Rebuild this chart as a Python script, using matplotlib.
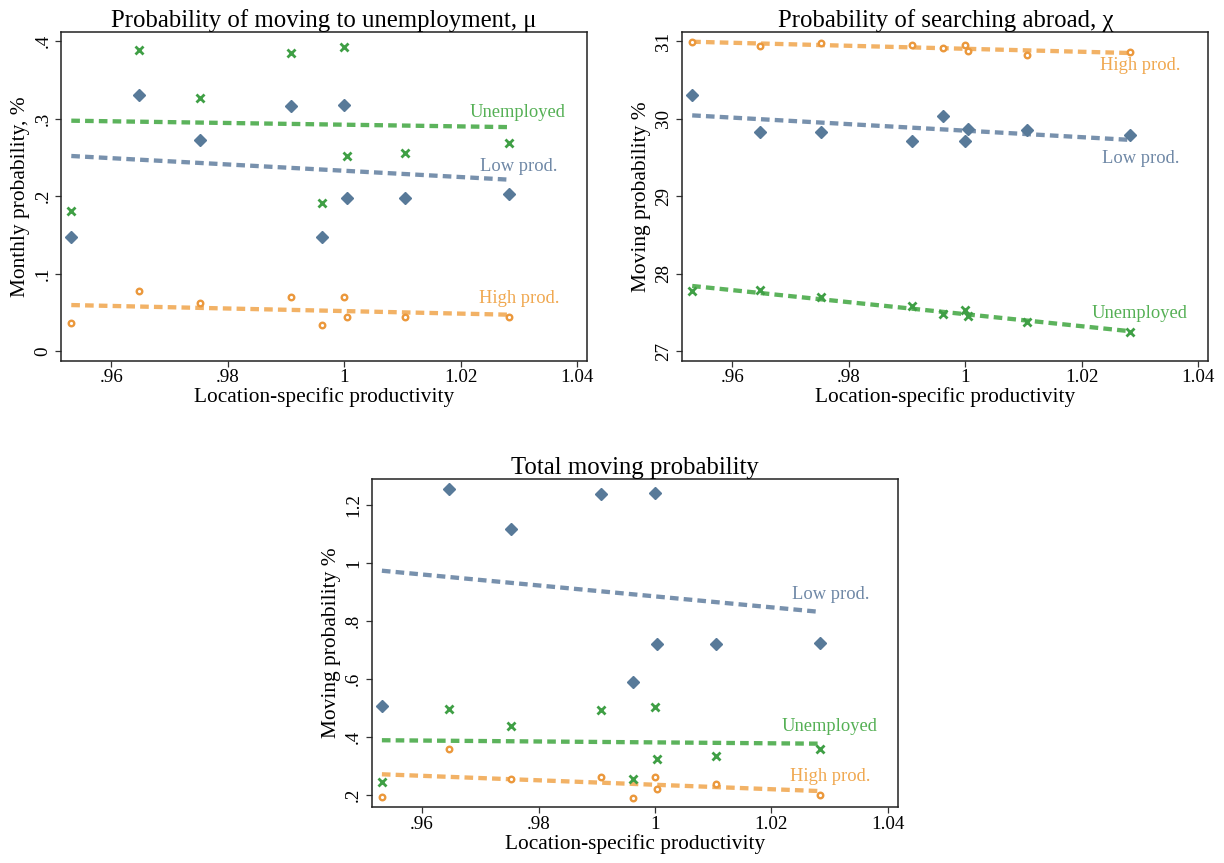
import numpy as np
import matplotlib
matplotlib.use("Agg")
import matplotlib.pyplot as plt
from matplotlib.ticker import FixedLocator, FixedFormatter

plt.rcParams['font.family'] = ['Liberation Serif', 'DejaVu Serif']

# ---- data ----
productivity = [0.9531, 0.9647, 0.9752, 0.9908, 0.9962, 1.0000, 1.0004, 1.0105, 1.0283]

mu_low = [0.1473, 0.3302, 0.2721, 0.3160, 0.1477, 0.3173, 0.1981, 0.1972, 0.2032]
mu_unemp = [0.1808, 0.3884, 0.3272, 0.3849, 0.1907, 0.3922, 0.2523, 0.2553, 0.2687]
mu_high = [0.0362, 0.0771, 0.0620, 0.0698, 0.0332, 0.0698, 0.0439, 0.0435, 0.0435]

chi_high = [30.987, 30.940, 30.983, 30.957, 30.910, 30.950, 30.880, 30.820, 30.860]
chi_low = [30.307, 29.829, 29.825, 29.717, 30.036, 29.717, 29.872, 29.859, 29.794]
chi_unemp = [27.779, 27.788, 27.698, 27.586, 27.474, 27.525, 27.452, 27.375, 27.241]

tot_low = [0.5054, 1.2563, 1.1173, 1.2390, 0.5880, 1.2400, 0.7212, 0.7200, 0.7247]
tot_unemp = [0.2425, 0.4974, 0.4365, 0.4939, 0.2528, 0.5020, 0.3217, 0.3343, 0.3561]
tot_high = [0.1931, 0.3561, 0.2540, 0.2620, 0.1897, 0.2620, 0.2184, 0.2356, 0.2000]

x_ticks = [0.96, 0.98, 1.00, 1.02, 1.04]
x_ticklabels = ['.96', '.98', '1', '1.02', '1.04']

titles = ['Probability of moving to unemployment, μ',
          'Probability of searching abroad, χ',
          'Total moving probability']
ylabels = ['Monthly probability, %', 'Moving probability %', 'Moving probability %']

mu_yticks = [0, 0.1, 0.2, 0.3, 0.4]
mu_yticklabels = ['0', '.1', '.2', '.3', '.4']
chi_yticks = [27, 28, 29, 30, 31]
chi_yticklabels = ['27', '28', '29', '30', '31']
tot_yticks = [0.2, 0.4, 0.6, 0.8, 1.0, 1.2]
tot_yticklabels = ['.2', '.4', '.6', '.8', '1', '1.2']

series_names = ['Low prod.', 'Unemployed', 'High prod.']

# label placement (data coords, right-aligned)
mu_label_pos = [(1.0366, 0.239), (1.038, 0.3087), (1.0369, 0.0685)]
chi_label_pos = [(1.0367, 29.484), (1.0382, 27.48), (1.037, 30.69)]
tot_label_pos = [(1.0368, 0.892), (1.0383, 0.434), (1.0371, 0.264)]

# ---- styles ----
mk_colors = ['#587a99', '#3f9f45', '#eb983c']
ln_colors = ['#7891ad', '#5cb35c', '#f2b266']
txt_colors = ['#6f88a6', '#55b055', '#f0a850']

W, H = 1224, 863
fig = plt.figure(figsize=(W / 100, H / 100), dpi=100)
fig.patch.set_facecolor('white')

def rect(l, r, t, b):
    return (l / W, 1 - b / H, (r - l) / W, (b - t) / H)

axes_rects = [
    rect(61.4, 587.0, 32.0, 360.5),
    rect(682.3, 1208.3, 32.0, 360.5),
    rect(372.0, 897.7, 479.3, 807.0),
]
ylims = [(-0.0121, 0.4121), (26.879, 31.12), (0.1575, 1.2884)]
panel_data = [
    ([mu_low, mu_unemp, mu_high], mu_yticks, mu_yticklabels, mu_label_pos),
    ([chi_low, chi_unemp, chi_high], chi_yticks, chi_yticklabels, chi_label_pos),
    ([tot_low, tot_unemp, tot_high], tot_yticks, tot_yticklabels, tot_label_pos),
]

x = np.array(productivity)
markers = ['D', 'x', 'o']

for i, r in enumerate(axes_rects):
    ax = fig.add_axes(r)
    series, yt, ytl, lpos = panel_data[i]
    xs = np.array([x.min(), x.max()])
    for k, ys in enumerate(series):
        ys = np.array(ys)
        b, a = np.polyfit(x, ys, 1)
        ax.plot(xs, a + b * xs, color=ln_colors[k], lw=3.1, ls=(0, (2.0, 1.2)),
                zorder=2, dash_capstyle='butt')
    for k, ys in enumerate(series):
        m = markers[k]
        if m == 'D':
            ax.plot(x, ys, ls='none', marker='D', ms=6.4, color=mk_colors[k],
                    mec=mk_colors[k], zorder=3)
        elif m == 'x':
            ax.plot(x, ys, ls='none', marker='x', ms=5.5, mew=2.0,
                    color=mk_colors[k], zorder=3)
        else:
            ax.plot(x, ys, ls='none', marker='o', ms=4.0, mew=1.7, mfc='white',
                    mec=mk_colors[k], zorder=3)
        ax.text(lpos[k][0], lpos[k][1], series_names[k], color=txt_colors[k],
                fontsize=13.3, ha='right', va='center')
    ax.set_xlim(0.9514, 1.0417)
    ax.set_ylim(*ylims[i])
    ax.xaxis.set_major_locator(FixedLocator(x_ticks))
    ax.xaxis.set_major_formatter(FixedFormatter(x_ticklabels))
    ax.yaxis.set_major_locator(FixedLocator(yt))
    ax.yaxis.set_major_formatter(FixedFormatter(ytl))
    ax.tick_params(axis='both', direction='out', length=4.2, width=0.9,
                   labelsize=13.7, color='#333333')
    ax.tick_params(axis='x', pad=2)
    ax.tick_params(axis='y', pad=3)
    for lab in ax.get_yticklabels():
        lab.set_rotation(90)
        lab.set_va('center')
    for sp in ax.spines.values():
        sp.set_linewidth(1.1)
        sp.set_color('#222222')
    ax.set_title(titles[i], fontsize=17.8, pad=3)
    ax.set_xlabel('Location-specific productivity', fontsize=15.4, labelpad=1)
    ax.set_ylabel(ylabels[i], fontsize=15.4, labelpad=3)

fig.savefig('out.png', dpi=100, facecolor='white')
